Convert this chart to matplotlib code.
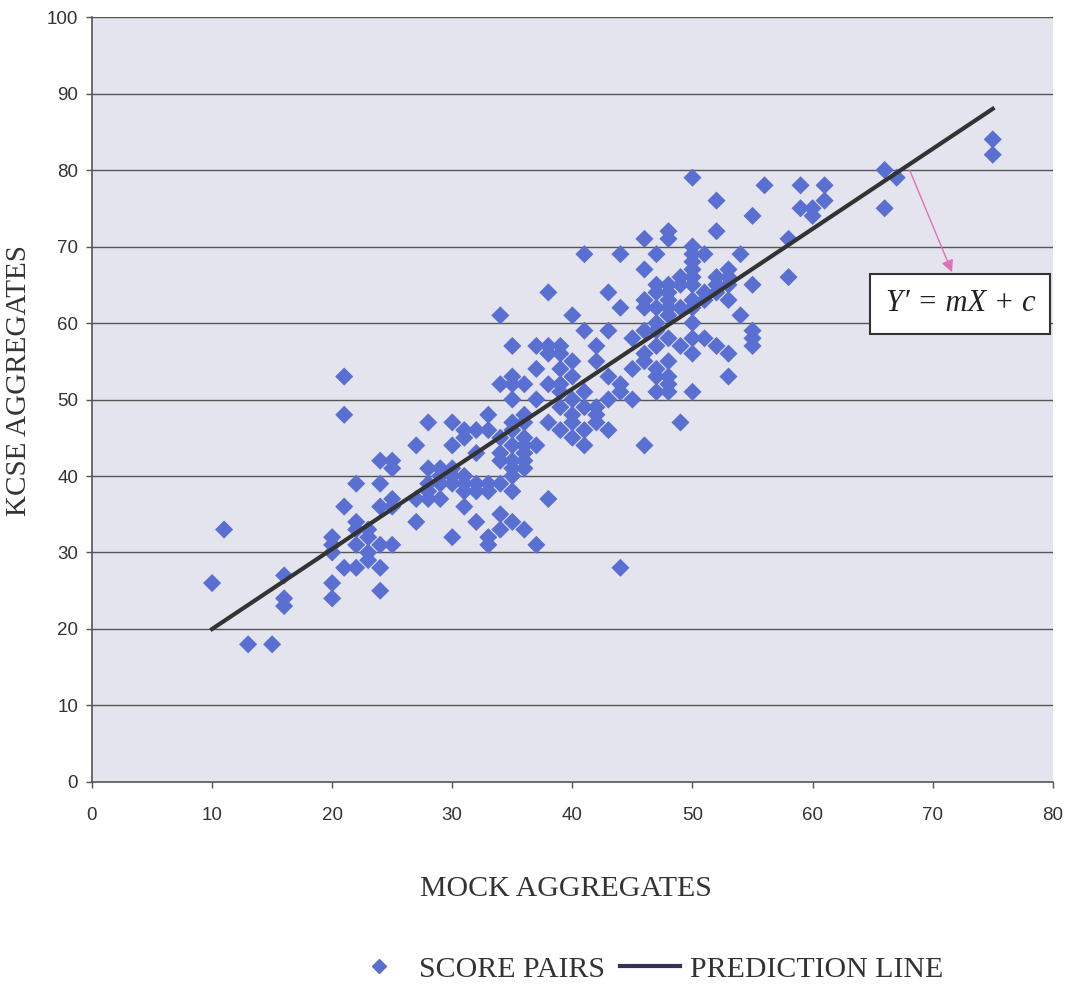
import matplotlib
matplotlib.use("Agg")
import matplotlib.pyplot as plt
from matplotlib.lines import Line2D

# mock aggregate -> list of KCSE aggregates
score_pairs = {
    10: [26],
    11: [33],
    13: [18],
    15: [18],
    16: [27, 24, 23],
    20: [32, 31, 30, 26, 24],
    21: [53, 48, 36, 28],
    22: [39, 34, 33, 31, 28],
    23: [33, 32, 30, 29],
    24: [42, 39, 36, 31, 28, 25],
    25: [42, 41, 37, 36, 31],
    27: [44, 37, 34],
    28: [47, 41, 39, 38, 37],
    29: [41, 40, 39, 37],
    30: [47, 44, 41, 40, 39, 32],
    31: [46, 45, 40, 39, 38, 36],
    32: [46, 43, 39, 38, 34],
    33: [48, 46, 39, 38, 32, 31],
    34: [61, 52, 45, 43, 42, 39, 35, 33],
    35: [57, 53, 52, 50, 47, 46, 44, 42, 41, 40, 38, 34],
    36: [52, 48, 47, 45, 44, 43, 42, 41, 33],
    37: [57, 54, 50, 44, 31],
    38: [64, 57, 56, 52, 47, 37],
    39: [57, 56, 54, 52, 51, 49, 46],
    40: [61, 55, 53, 50, 48, 47, 45],
    41: [69, 59, 51, 49, 46, 44],
    42: [57, 55, 49, 48, 47],
    43: [64, 59, 53, 50, 46],
    44: [69, 62, 52, 51, 28],
    45: [58, 54, 50],
    46: [71, 67, 63, 62, 59, 56, 55, 44],
    47: [69, 65, 64, 62, 60, 59, 57, 54, 53, 51],
    48: [72, 71, 65, 64, 63, 62, 61, 58, 55, 53, 52, 51],
    49: [66, 65, 62, 57, 47],
    50: [79, 70, 69, 68, 67, 66, 65, 63, 62, 60, 58, 56, 51],
    51: [69, 64, 63, 58],
    52: [76, 72, 66, 65, 64, 57],
    53: [67, 66, 65, 63, 56, 53],
    54: [69, 61],
    55: [74, 65, 59, 58, 57],
    56: [78],
    58: [71, 66],
    59: [78, 75],
    60: [75, 74],
    61: [78, 76],
    66: [80, 75],
    67: [79],
    75: [84, 82],
}
mock = [x for x, ys in score_pairs.items() for _ in ys]
kcse = [y for ys in score_pairs.values() for y in ys]

line_x = [10, 75]
line_y = [20, 88]

x_ticks = list(range(0, 81, 10))
y_ticks = list(range(0, 101, 10))

SERIF = "Liberation Serif"
SANS = "Liberation Sans"
BLUE = "#5a6fd2"
INK = "#333333"

fig = plt.figure(figsize=(10.82, 9.84), dpi=100)
ax = fig.add_axes([0.085, 0.2053, 0.888, 0.7774])
ax.set_facecolor("#e4e4ef")

for v in y_ticks[1:]:
    ax.axhline(v, color="#555555", lw=1.0, zorder=1)

ax.scatter(mock, kcse, marker="D", s=85, color=BLUE, edgecolors="none", zorder=3)
ax.plot(line_x, line_y, color="#333333", lw=3, zorder=4)

ax.set_xlim(0, 80)
ax.set_ylim(0, 100)
ax.set_xticks(x_ticks)
ax.set_yticks(y_ticks)
ax.tick_params(direction="out", length=4, width=1, color="#555555",
               labelsize=13.5, labelcolor=INK, pad=6)
ax.tick_params(axis="x", pad=14)
for lab in ax.get_xticklabels() + ax.get_yticklabels():
    lab.set_fontfamily(SANS)

for side in ("top", "right"):
    ax.spines[side].set_visible(False)
for side in ("left", "bottom"):
    ax.spines[side].set_color("#555555")
    ax.spines[side].set_linewidth(1.2)

ax.set_xlabel("MOCK AGGREGATES", fontfamily=SERIF, fontsize=21.5, color=INK)
ax.xaxis.set_label_coords(0.493, -0.123)
ax.set_ylabel("KCSE AGGREGATES", fontfamily=SERIF, fontsize=21, color=INK)
ax.yaxis.set_label_coords(-0.062, 0.525)

# equation callout
ax.annotate("", xy=(71.7, 66.3), xytext=(68.0, 80.3),
            arrowprops=dict(arrowstyle="-|>", color="#e070b8", lw=1,
                            mutation_scale=18), zorder=5)
ax.text(72.3, 62.5, "Y\u2032 = mX + c", fontsize=22, ha="center", va="center",
        fontfamily=SERIF, style="italic", color="#222222", zorder=6,
        clip_on=False,
        bbox=dict(boxstyle="square,pad=0.5", fc="white", ec="#333333", lw=1.5))

handles = [
    Line2D([], [], marker="D", ls="none", color=BLUE, markersize=7),
    Line2D([], [], color="#333355", lw=3),
]
fig.legend(handles, ["SCORE PAIRS", "PREDICTION LINE"], loc="lower center",
           bbox_to_anchor=(0.597, -0.026), ncol=2, frameon=False,
           prop={"family": SERIF, "size": 21.5}, handlelength=2.0,
           columnspacing=0.5, handletextpad=0.35, labelcolor=INK)

plt.savefig("out.png", dpi=100)
